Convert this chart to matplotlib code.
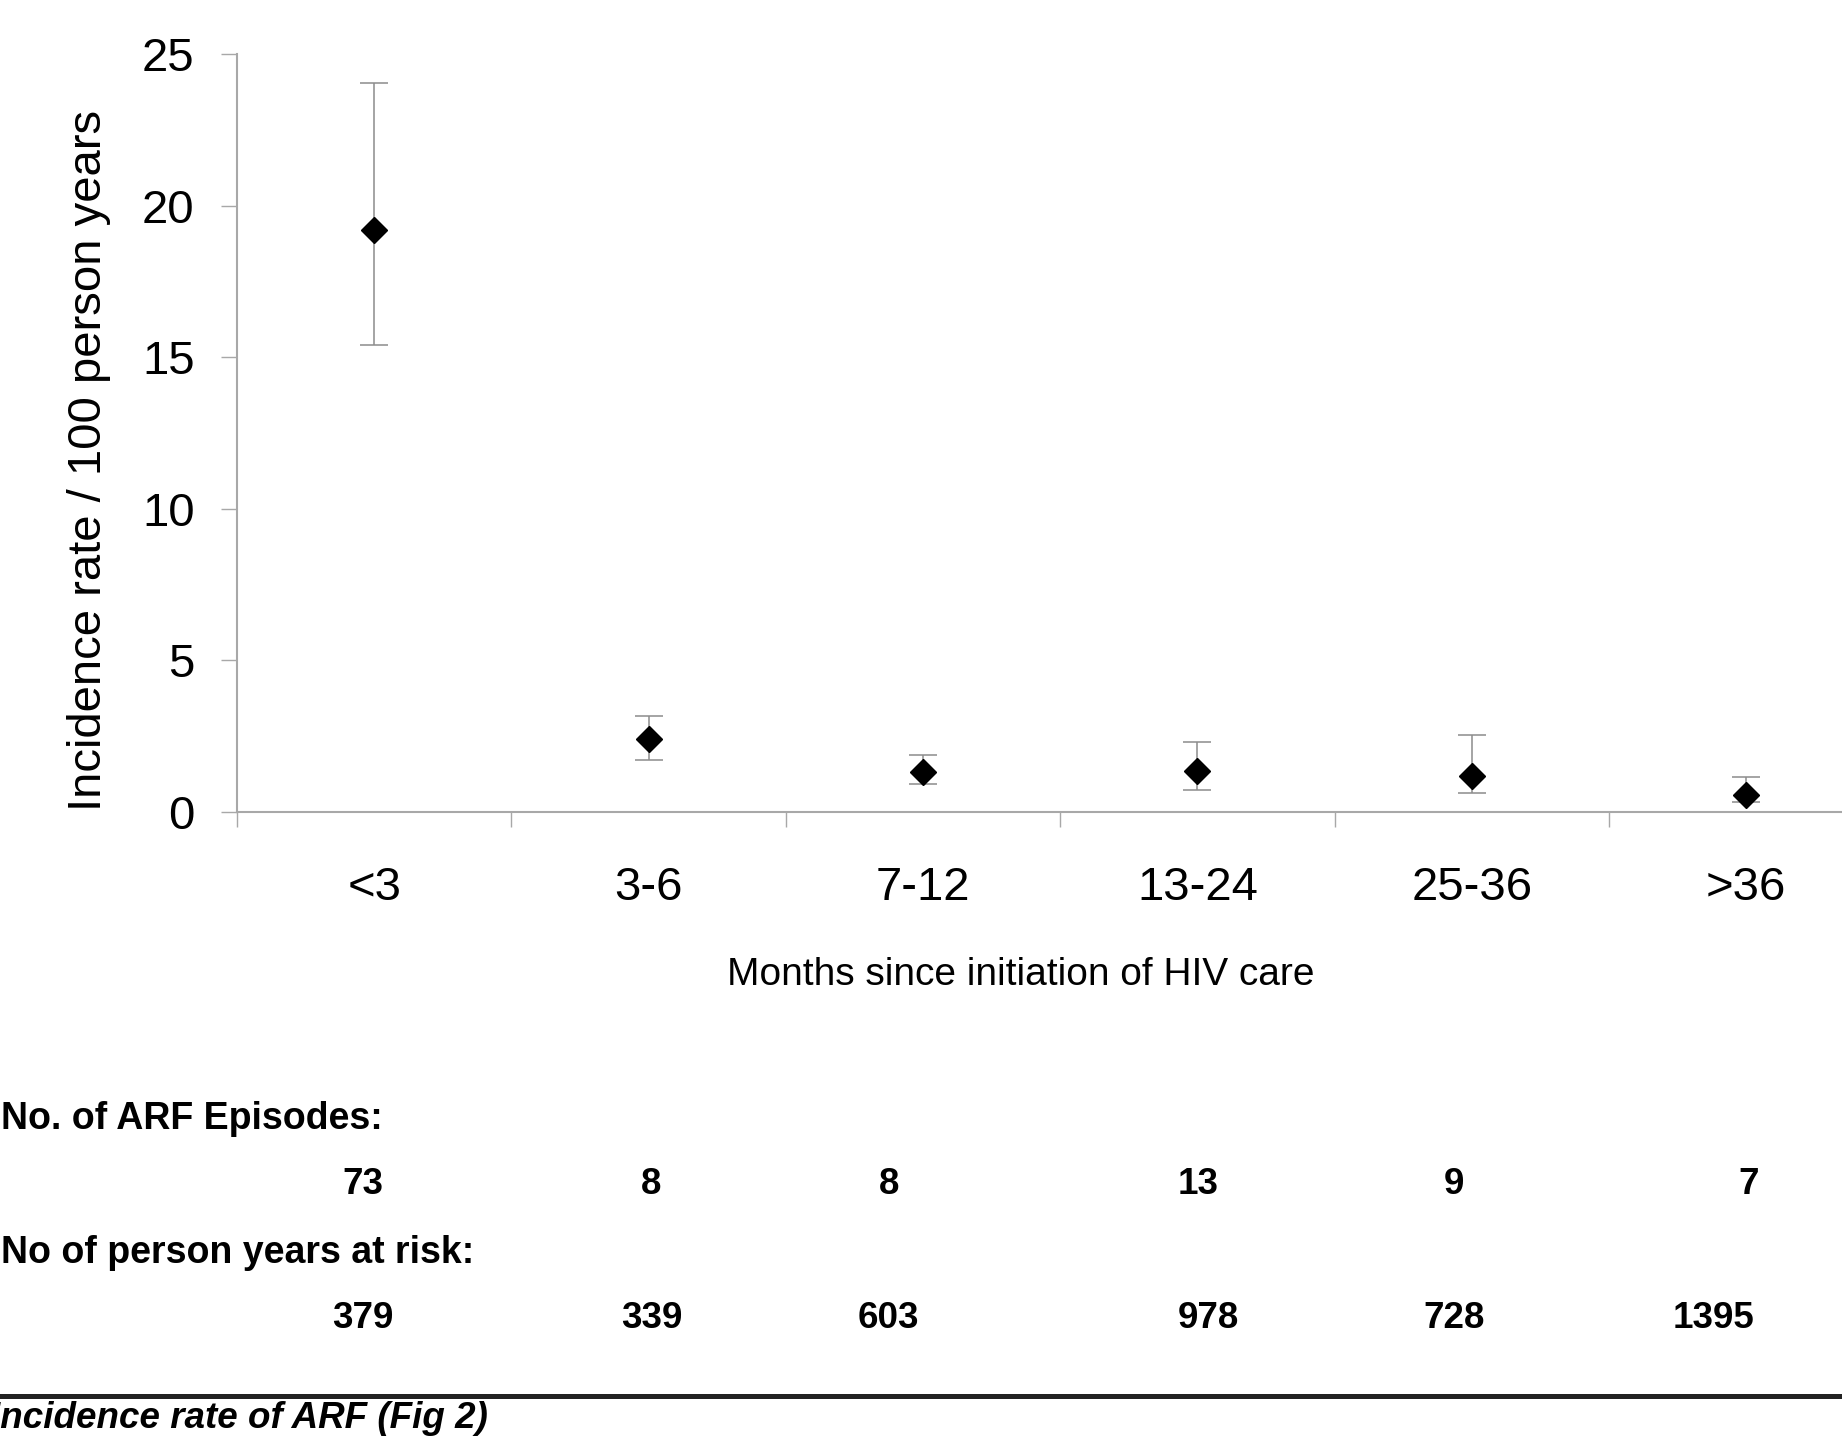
import matplotlib
matplotlib.use("Agg")
import matplotlib.pyplot as plt
from matplotlib import font_manager
from matplotlib.lines import Line2D
import numpy as np

# ---- data ----
categories = ['<3', '3-6', '7-12', '13-24', '25-36', '>36']
rate = [19.2, 2.4, 1.33, 1.35, 1.2, 0.55]
ci_upper = [24.05, 3.15, 1.87, 2.3, 2.53, 1.15]
ci_lower = [15.4, 1.7, 0.92, 0.74, 0.64, 0.33]
episodes = [73, 8, 8, 13, 9, 7]
person_years = [379, 339, 603, 978, 728, 1395]
y_ticks = [0, 5, 10, 15, 20, 25]

# ---- layout ----
W, H = 1842, 1451
DPI = 100
names = {f.name for f in font_manager.fontManager.ttflist}
base = 'Liberation Sans' if 'Liberation Sans' in names else 'DejaVu Sans'
plt.rcParams['font.family'] = [base, 'DejaVu Sans']

fig = plt.figure(figsize=(W / DPI, H / DPI), dpi=DPI)
left_px, bottom_px, top_px = 237, 812, 54
ax = fig.add_axes([left_px / W, 1 - bottom_px / H, 1 - left_px / W, (bottom_px - top_px) / H])

x = np.arange(len(categories)) + 0.5
r = np.array(rate)
yerr = np.vstack([r - np.array(ci_lower), np.array(ci_upper) - r])
ax.errorbar(x, r, yerr=yerr, fmt='none', ecolor='#8c8c8c', elinewidth=1.1,
            capsize=10, capthick=1.1, zorder=2)
ax.plot(x, r, linestyle='none', marker='D', markersize=13, color='black', zorder=3)

ax.set_ylim(0, 25)
ax.set_xlim(0, (W - left_px) / 274.4)
for s in ['top', 'right']:
    ax.spines[s].set_visible(False)
for s in ['left', 'bottom']:
    ax.spines[s].set_color('#a8a8a8')
    ax.spines[s].set_linewidth(1.5)

ax.set_yticks(y_ticks)
ax.set_yticklabels([str(v) for v in y_ticks])
ax.tick_params(axis='y', direction='out', length=11.5, width=1, color='#a8a8a8',
               pad=19, labelsize=34)
ax.set_xticks(np.arange(0, 6))
ax.set_xticklabels([])
ax.set_xticks(x, minor=True)
ax.set_xticklabels(categories, minor=True)
ax.tick_params(axis='x', which='major', direction='out', length=11, width=1, color='#a8a8a8')
ax.tick_params(axis='x', which='minor', length=0, pad=39, labelsize=34)

fig.text(89 / W, 1 - 460 / H, 'Incidence rate / 100 person years', rotation=90,
         ha='center', va='center', fontsize=34)
fig.text(1021 / W, 1 - 975 / H, 'Months since initiation of HIV care',
         ha='center', va='center', fontsize=28)

# ---- table below ----
row1_x = [363, 651, 889, 1198, 1454, 1749]
row2_x = [363, 652, 888, 1208, 1454, 1713]
fig.text(1 / W, 1 - 1119 / H, 'No. of ARF Episodes:', ha='left', va='center',
         fontsize=27, fontweight='bold')
for px, v in zip(row1_x, episodes):
    fig.text(px / W, 1 - 1185 / H, str(v), ha='center', va='center',
             fontsize=26.5, fontweight='bold')
fig.text(1 / W, 1 - 1253 / H, 'No of person years at risk:', ha='left', va='center',
         fontsize=27, fontweight='bold')
for px, v in zip(row2_x, person_years):
    fig.text(px / W, 1 - 1319 / H, str(v), ha='center', va='center',
             fontsize=26.5, fontweight='bold')

fig.add_artist(Line2D([0, 1], [1 - 1396 / H, 1 - 1396 / H], transform=fig.transFigure,
                      color='#222222', linewidth=3.6))
fig.text(-10 / W, 1 - 1419 / H, 'Incidence rate of ARF (Fig 2)', ha='left', va='center',
         fontsize=26.5, fontweight='bold', fontstyle='italic')

fig.savefig('out.png', dpi=DPI)
